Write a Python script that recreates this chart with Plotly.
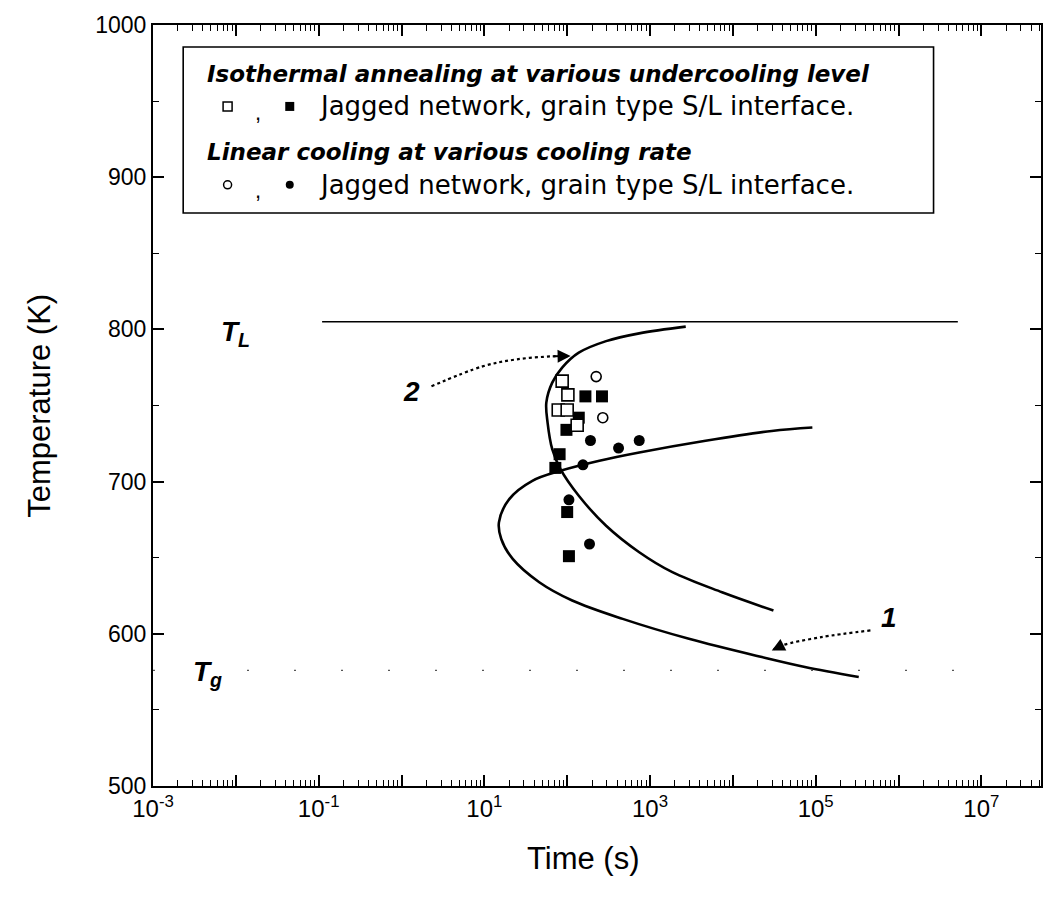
import numpy as np
import plotly.graph_objects as go

# ---------------- data ----------------
# Curve 2 (upper C-curve)
curve2_time = [2700, 740, 295, 138, 87, 66, 56, 58, 66, 83, 138, 295, 741, 1860, 7400, 30900]
curve2_temp = [801.8, 797.4, 792.3, 784.7, 774.9, 765, 751.9, 738.8, 721.3, 708.2, 690.7, 671, 653.6, 640.5, 627.3, 615.3]
# Curve 1 (lower C-curve)
curve1_time = [91200, 29500, 4680, 741, 245, 83, 38, 20, 15, 16, 22, 46, 115, 468, 2950, 22400, 74100, 331000]
curve1_temp = [735.5, 733.3, 726.8, 719.1, 713.7, 707.1, 700.5, 688.5, 673.2, 662.3, 649.2, 633.9, 621.9, 609.8, 596.7, 584.7, 578.2, 571.6]

# Isothermal annealing (squares)
iso_open_time = [87, 102, 78, 100, 132]
iso_open_temp = [766, 757, 747, 747, 737]
iso_fill_time = [166, 263, 138, 98, 81, 72, 100, 105]
iso_fill_temp = [756, 756, 742, 734, 718, 709, 680, 651]
# Linear cooling (circles)
lin_open_time = [224, 269]
lin_open_temp = [769, 742]
lin_fill_time = [191, 417, 741, 155, 105, 186]
lin_fill_temp = [727, 722, 727, 711, 688, 659]

# Liquidus / glass transition
TL_temp = 805
TL_time = [0.11, 5.2e6]
Tg_temp = 576
Tg_time = [1.0e-3, 6.0e6]

# Dotted arrows
arrow2_time = [2.3, 9.5, 24.5, 66, 110]
arrow2_temp = [762.6, 775.7, 780.3, 782.3, 782.5]
arrow1_time = [458000, 117000, 38900, 29500]
arrow1_temp = [602.2, 597.8, 592.3, 589.0]

x_major = [10.0 ** e for e in range(-3, 8)]
x_major_text = [("10<sup>%d</sup>" % e) if (e % 2 != 0) else "" for e in range(-3, 8)]
x_minor = [k * 10.0 ** e for e in range(-3, 8) for k in range(2, 10)]

legend_titles = ["Isothermal annealing at various undercooling level",
                 "Linear cooling at various cooling rate"]
legend_row_text = "Jagged network, grain type S/L interface."

FONT = "Liberation Sans"
LFONT = "DejaVu Sans"
BLACK = "black"

fig = go.Figure()

# Curves
fig.add_trace(go.Scatter(x=curve2_time, y=curve2_temp, mode="lines",
                         line=dict(color=BLACK, width=2.6, shape="spline", smoothing=1.0)))
fig.add_trace(go.Scatter(x=curve1_time, y=curve1_temp, mode="lines",
                         line=dict(color=BLACK, width=2.6, shape="spline", smoothing=1.0)))
# T_L and T_g lines
fig.add_trace(go.Scatter(x=TL_time, y=[TL_temp, TL_temp], mode="lines",
                         line=dict(color=BLACK, width=1.6)))
fig.add_trace(go.Scatter(x=Tg_time, y=[Tg_temp, Tg_temp], mode="lines",
                         line=dict(color="#555", width=1.2, dash="2px,45px")))
# Dotted arrows
fig.add_trace(go.Scatter(x=arrow2_time, y=arrow2_temp, mode="lines",
                         line=dict(color=BLACK, width=2.2, dash="dot", shape="spline")))
fig.add_trace(go.Scatter(x=arrow1_time, y=arrow1_temp, mode="lines",
                         line=dict(color=BLACK, width=2.2, dash="dot", shape="spline")))

# Data points
fig.add_trace(go.Scatter(x=lin_fill_time, y=lin_fill_temp, mode="markers",
                         marker=dict(symbol="circle", size=11, color=BLACK)))
fig.add_trace(go.Scatter(x=iso_fill_time, y=iso_fill_temp, mode="markers",
                         marker=dict(symbol="square", size=12, color=BLACK)))
fig.add_trace(go.Scatter(x=iso_open_time, y=iso_open_temp, mode="markers",
                         marker=dict(symbol="square", size=12, color="white",
                                     line=dict(color=BLACK, width=1.6))))
fig.add_trace(go.Scatter(x=lin_open_time, y=lin_open_temp, mode="markers",
                         marker=dict(symbol="circle", size=10, color="white",
                                     line=dict(color=BLACK, width=1.6))))

# Legend glyphs on an overlay (0..1) axis pair
leg_x_open, leg_x_fill = 0.084, 0.154
leg_rows = [0.893, 0.790]
fig.add_trace(go.Scatter(x=[leg_x_open], y=[leg_rows[0]], xaxis="x2", yaxis="y2", mode="markers",
                         marker=dict(symbol="square", size=9, color="white", line=dict(color=BLACK, width=1.5))))
fig.add_trace(go.Scatter(x=[leg_x_fill], y=[leg_rows[0]], xaxis="x2", yaxis="y2", mode="markers",
                         marker=dict(symbol="square", size=9, color=BLACK)))
fig.add_trace(go.Scatter(x=[leg_x_open], y=[leg_rows[1]], xaxis="x2", yaxis="y2", mode="markers",
                         marker=dict(symbol="circle", size=8, color="white", line=dict(color=BLACK, width=1.5))))
fig.add_trace(go.Scatter(x=[leg_x_fill], y=[leg_rows[1]], xaxis="x2", yaxis="y2", mode="markers",
                         marker=dict(symbol="circle", size=8, color=BLACK)))

ann = []
# Legend texts
ann.append(dict(xref="paper", yref="paper", x=0.058, y=0.935, xanchor="left", yanchor="middle",
                text="<b><i>%s</i></b>" % legend_titles[0],
                showarrow=False, font=dict(family=LFONT, size=23, color=BLACK)))
ann.append(dict(xref="paper", yref="paper", x=0.058, y=0.833, xanchor="left", yanchor="middle",
                text="<b><i>%s</i></b>" % legend_titles[1],
                showarrow=False, font=dict(family=LFONT, size=23, color=BLACK)))
for yy in leg_rows:
    ann.append(dict(xref="paper", yref="paper", x=0.118, y=yy - 0.008, xanchor="center", yanchor="middle",
                    text=",", showarrow=False, font=dict(family=FONT, size=22, color=BLACK)))
    ann.append(dict(xref="paper", yref="paper", x=0.185, y=yy, xanchor="left", yanchor="middle",
                    text=legend_row_text, showarrow=False,
                    font=dict(family=LFONT, size=26, color=BLACK)))

# T_L, T_g labels
ann.append(dict(x=np.log10(0.0098), y=797, text="<b><i>T<sub>L</sub></i></b>", showarrow=False,
                font=dict(family=FONT, size=28, color=BLACK)))
ann.append(dict(x=np.log10(0.0046), y=574, text="<b><i>T<sub>g</sub></i></b>", showarrow=False,
                font=dict(family=FONT, size=28, color=BLACK)))
# Numbers 1, 2
ann.append(dict(x=5.88, y=611, text="<b><i>1</i></b>", showarrow=False,
                font=dict(family=FONT, size=28, color=BLACK)))
ann.append(dict(x=0.12, y=759, text="<b><i>2</i></b>", showarrow=False,
                font=dict(family=FONT, size=28, color=BLACK)))
# Arrow heads
ann.append(dict(x=np.log10(arrow2_time[-1]), y=arrow2_temp[-1], ax=np.log10(arrow2_time[-2]), ay=arrow2_temp[-2],
                axref="x", ayref="y", showarrow=True, arrowhead=2, arrowsize=1.3, arrowwidth=2,
                arrowcolor=BLACK, text=""))
ann.append(dict(x=np.log10(arrow1_time[-1]), y=arrow1_temp[-1], ax=np.log10(arrow1_time[-2]), ay=arrow1_temp[-2],
                axref="x", ayref="y", showarrow=True, arrowhead=2, arrowsize=1.3, arrowwidth=2,
                arrowcolor=BLACK, text=""))
# Axis titles
ann.append(dict(xref="paper", yref="paper", x=0.485, y=-0.095, text="Time (s)", showarrow=False,
                xanchor="center", yanchor="middle", font=dict(family=FONT, size=31, color=BLACK)))
ann.append(dict(xref="paper", yref="paper", x=-0.128, y=0.5, text="Temperature (K)", showarrow=False,
                textangle=-90, xanchor="center", yanchor="middle", font=dict(family=FONT, size=31, color=BLACK)))

fig.update_layout(
    width=1052, height=900,
    margin=dict(l=153, r=9, t=25, b=114),
    paper_bgcolor="white", plot_bgcolor="white",
    showlegend=False,
    annotations=ann,
    shapes=[dict(type="rect", xref="paper", yref="paper", x0=0.034, x1=0.879, y0=0.753, y1=0.971,
                 line=dict(color=BLACK, width=1.6), fillcolor="rgba(0,0,0,0)", layer="above")],
    xaxis=dict(type="log", range=[-3, 7.72], tickmode="array", tickvals=x_major, ticktext=x_major_text,
               ticks="inside", ticklen=11, tickwidth=1.6, tickcolor=BLACK,
               minor=dict(tickmode="array", tickvals=x_minor, ticks="inside", ticklen=6, tickwidth=1.2,
                          tickcolor=BLACK, showgrid=False),
               showline=True, linewidth=2, linecolor=BLACK, mirror="allticks", showgrid=False, zeroline=False,
               tickfont=dict(family=FONT, size=24, color=BLACK)),
    yaxis=dict(range=[500, 1000], tickmode="linear", tick0=500, dtick=100,
               ticks="inside", ticklen=11, tickwidth=1.6, tickcolor=BLACK,
               minor=dict(dtick=50, ticks="inside", ticklen=6, tickwidth=1.2, tickcolor=BLACK, showgrid=False),
               showline=True, linewidth=2, linecolor=BLACK, mirror="allticks", showgrid=False, zeroline=False,
               tickfont=dict(family=FONT, size=23, color=BLACK)),
    xaxis2=dict(overlaying="x", range=[0, 1], visible=False, fixedrange=True),
    yaxis2=dict(overlaying="y", range=[0, 1], visible=False, fixedrange=True),
)

fig.write_html("out.html")
